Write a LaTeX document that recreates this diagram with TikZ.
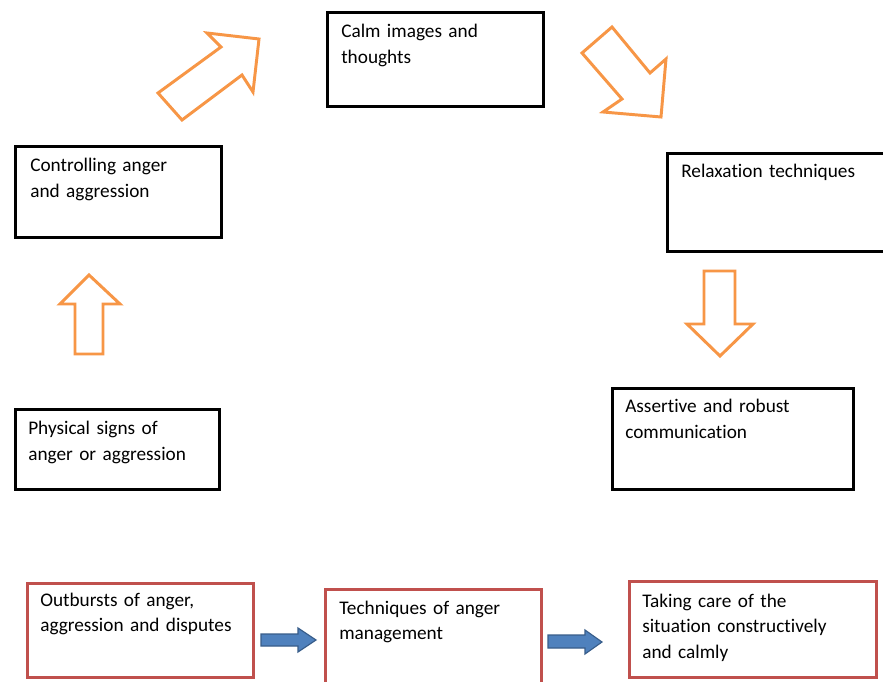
\documentclass[tikz,border=0pt]{standalone}
\usepackage{fontspec}
\setmainfont{Carlito}[RawFeature={-liga;-clig;-dlig;-calt}]
\usetikzlibrary{positioning}

\definecolor{boxred}{HTML}{C0504D}
\definecolor{arroworange}{HTML}{F79646}
\definecolor{arrowblue}{HTML}{4F81BD}
\definecolor{arrowblueline}{HTML}{385D8A}

\tikzset{
  box/.style={draw=black,line width=2.1pt,anchor=north west,inner sep=0pt},
  redbox/.style={box,draw=boxred},
  boxtext/.style={anchor=base west,inner sep=0pt,text width=6.5cm,align=left,font=\fontsize{13.7}{18.3}\selectfont},
  hollowarrow/.style={draw=arroworange,line width=2.1pt,fill=white,line join=miter},
  bluearrow/.style={draw=arrowblueline,line width=0.8pt,fill=arrowblue,line join=miter}
}

\begin{document}
\begin{tikzpicture}[x=0.025cm,y=-0.025cm]
\useasboundingbox (0,0) rectangle (883,682);
\fill[white] (0,0) rectangle (883,682);
\clip (0,0) rectangle (883,682);

% cycle boxes
\node[box,minimum width=5.4cm,minimum height=2.35cm] (calm) at (326,11) {};
\node[box,minimum width=5.75cm,minimum height=2.45cm] (relax) at (666,152) {};
\node[box,minimum width=5.15cm,minimum height=2.275cm] (ctrl) at (14,145) {};
\node[box,minimum width=6.025cm,minimum height=2.525cm] (assert) at (611,387) {};
\node[box,minimum width=5.1cm,minimum height=2.0cm] (phys) at (14,408) {};

\node[boxtext] (calmt) at ([shift={(15,27)}]calm.north west) {Calm images and\\thoughts};
\node[boxtext] (relaxt) at ([shift={(15,26)}]relax.north west) {Relaxation techniques};
\node[boxtext] (ctrlt) at ([shift={(16,27)}]ctrl.north west) {Controlling anger\\and aggression};
\node[boxtext] (assertt) at ([shift={(14,26)}]assert.north west) {Assertive and robust\\communication};
\node[boxtext] (physt) at ([shift={(14,27)}]phys.north west) {Physical signs of\\anger or aggression};

% bottom row
\node[redbox,minimum width=5.65cm,minimum height=2.35cm] (outb) at (26,582) {};
\node[redbox,minimum width=5.4cm,minimum height=2.75cm] (tech) at (324,588) {};
\node[redbox,minimum width=6.175cm,minimum height=2.4cm] (take) at (628,580) {};

\node[boxtext] (outbt) at ([shift={(14,24)}]outb.north west) {Outbursts of anger,\\aggression and disputes};
\node[boxtext] (techt) at ([shift={(15,26)}]tech.north west) {Techniques of anger\\management};
\node[boxtext] (taket) at ([shift={(14,27)}]take.north west) {Taking care of the\\situation constructively\\and calmly};

% orange outline arrows
\draw[hollowarrow] (89,275) -- (120,304) -- (103,304) -- (103,354) -- (75,354) -- (75,304) -- (60,304) -- cycle;
\draw[hollowarrow] (158,93) -- (221,47) -- (207,33) -- (259,39) -- (253,92) -- (242,75) -- (182,120) -- cycle;
\draw[hollowarrow] (582,53) -- (612,27) -- (650,73) -- (666,59) -- (661,117) -- (603,112) -- (622,99) -- cycle;
\draw[hollowarrow] (704,271) -- (735,271) -- (735,324) -- (753,324) -- (720,356) -- (687,324) -- (704,324) -- cycle;

% blue arrows
\draw[bluearrow] (261,634) -- (298,634) -- (298,628) -- (316,640) -- (298,652) -- (298,646) -- (261,646) -- cycle;
\draw[bluearrow] (548,635) -- (585,635) -- (585,630) -- (602,642) -- (585,654) -- (585,648) -- (548,648) -- cycle;
\end{tikzpicture}
\end{document}
